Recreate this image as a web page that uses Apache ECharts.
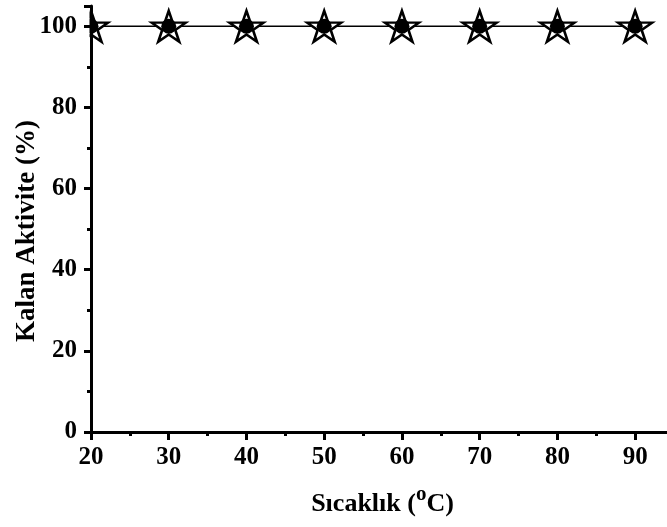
<!DOCTYPE html>
<html>
<head>
<meta charset="utf-8">
<script src="https://cdn.jsdelivr.net/npm/echarts@6/dist/echarts.min.js"></script>
<style>
  html, body { margin: 0; padding: 0; background: #fff; }
  #chart { width: 667px; height: 527px; }
</style>
</head>
<body>
<div id="chart"></div>
<script>
// Data
const temperatures = [20, 30, 40, 50, 60, 70, 80, 90];
const residualActivity = [100, 100, 100, 100, 100, 100, 100, 100];
const xAxisTitle = 'Sıcaklık ({sup|o}C)';
const yAxisTitle = 'Kalan Aktivite (%)';

const FONT = 'Liberation Serif';
const starPath = 'path://M50 0 L61.23 34.55 L97.55 34.55 L68.16 55.9 L79.39 90.45 L50 69.1 L20.61 90.45 L31.84 55.9 L2.45 34.55 L38.77 34.55 Z';
const points = temperatures.map((t, i) => [t, residualActivity[i]]);

const chart = echarts.init(document.getElementById('chart'), null, { renderer: 'canvas' });
const GRID_LEFT = 91;

chart.setOption({
  backgroundColor: '#fff',
  animation: false,
  grid: { left: GRID_LEFT, right: -7, top: 6, bottom: 95, containLabel: false, outerBoundsMode: 'none' },
  xAxis: {
    type: 'value', min: 20, max: 95, interval: 10,
    axisLine: { show: true, lineStyle: { color: '#000', width: 3 } },
    axisTick: { show: true, length: 8, lineStyle: { color: '#000', width: 3 } },
    minorTick: { show: true, splitNumber: 2, length: 4, lineStyle: { color: '#000', width: 3 } },
    splitLine: { show: false },
    axisLabel: { color: '#000', fontFamily: FONT, fontWeight: 'bold', fontSize: 25, margin: 13,
      showMaxLabel: false },
    name: xAxisTitle, nameLocation: 'middle', nameGap: 59,
    nameTextStyle: { color: '#000', fontFamily: FONT, fontWeight: 'bold', fontSize: 26,
      rich: { sup: { fontFamily: FONT, fontWeight: 'bold', fontSize: 21, color: '#000',
        verticalAlign: 'bottom', lineHeight: 21, padding: [0, 0, 12, 0] } } }
  },
  yAxis: {
    type: 'value', min: 0, max: 105, interval: 20, z: 20,
    axisLine: { show: true, lineStyle: { color: '#000', width: 3 } },
    axisTick: { show: true, length: 7, lineStyle: { color: '#000', width: 3 } },
    minorTick: { show: true, splitNumber: 2, length: 4, lineStyle: { color: '#000', width: 3 } },
    splitLine: { show: false },
    axisLabel: { color: '#000', fontFamily: FONT, fontWeight: 'bold', fontSize: 25, margin: 14,
      showMaxLabel: false },
    name: yAxisTitle, nameLocation: 'middle', nameGap: 50, nameRotate: 90, nameMoveOverlap: false,
    nameTextStyle: { color: '#000', fontFamily: FONT, fontWeight: 'bold', fontSize: 27, padding: [0, 24, 0, 0] }
  },
  graphic: [{
    type: 'rect', left: 0, top: 0, z: 10,
    shape: { width: GRID_LEFT - 1.5, height: 50 },
    style: { fill: '#fff' }
  }],
  series: [{
    type: 'line', data: points, z: 2,
    lineStyle: { color: '#000', width: 1.5 },
    symbol: starPath, symbolSize: [34, 31], symbolKeepAspect: false,
    itemStyle: { color: '#fff', borderColor: '#000', borderWidth: 2.5 },
    clip: false
  }, {
    type: 'scatter', data: points, z: 3,
    symbol: 'circle', symbolSize: 15,
    itemStyle: { color: '#000', opacity: 1 },
    clip: false
  }]
});
</script>
</body>
</html>
